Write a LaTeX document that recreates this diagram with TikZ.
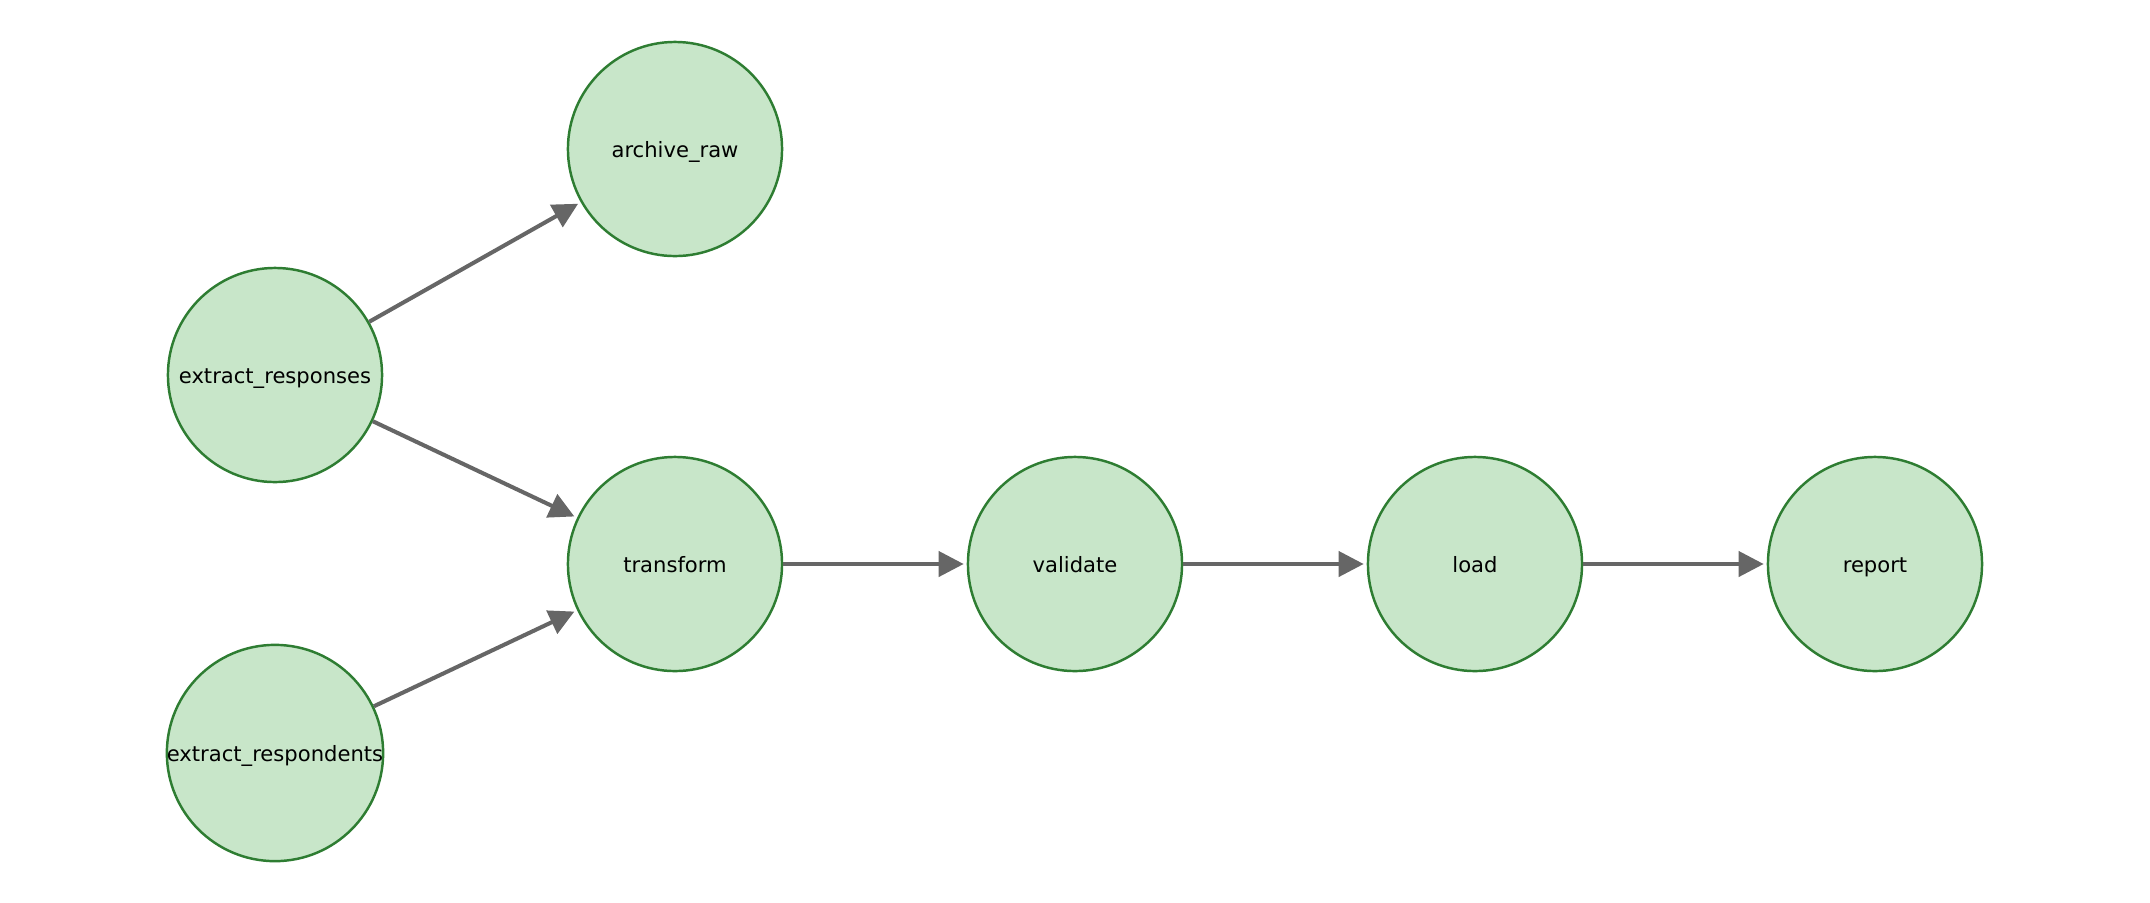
\documentclass[tikz,border=0pt]{standalone}
\usepackage{fontspec}
\setmainfont{DejaVu Sans}
\usepackage{tikz}
\usetikzlibrary{arrows.meta}
\definecolor{taskfill}{HTML}{C8E6C9}
\definecolor{taskline}{HTML}{2E7D32}
\definecolor{edgegray}{HTML}{666666}

\begin{document}
\begin{tikzpicture} [
                x=0.01cm,
                y=-0.01cm,
                task/.style={circle,fill=taskfill,draw=taskline,line width=0.7pt,minimum size=2.14cm,inner sep=0pt,text height=4.6pt,text depth=0pt,font=\fontsize{6}{7}\selectfont},
                flow/.style = {draw=edgegray,line width=1.15pt,-{Triangle[length=0.25cm,width=0.25cm]},shorten >=0.03cm}
            ]
            \useasboundingbox (0,0) rectangle (2150,902);
        % First we draw the tasks
            \foreach \pos/\name/\text in {
                {(675,149)/ar/archive\_raw},
                {(275,375)/er/extract\_responses},
                {(275,753)/es/extract\_respondents},
                {(675,564)/tr/transform},
                {(1075,564)/va/validate},
                {(1475,564)/lo/load},
            {(1875,564)/re/report}}
            \node[task] (\name) at \pos {\text};
        % Connect tasks with arrows
            \foreach \source/ \dest in {
            er/ar, er/tr, es/tr, tr/va, va/lo, lo/re}
            \path[flow] (\source) -- (\dest);
        \end{tikzpicture}
\end{document}
